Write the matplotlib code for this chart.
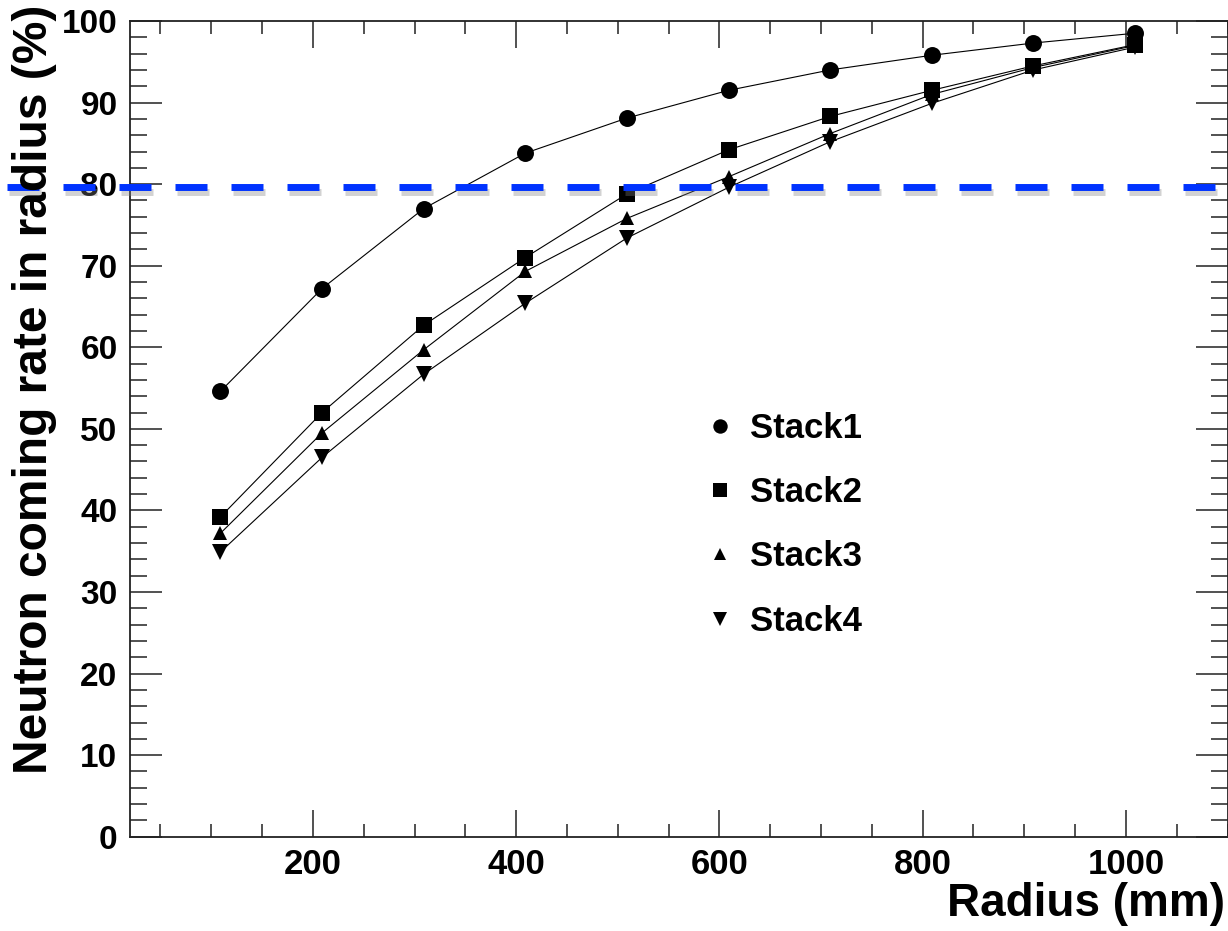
import matplotlib
matplotlib.use("Agg")
import matplotlib.pyplot as plt
import matplotlib.patheffects as pe
from matplotlib.lines import Line2D
from matplotlib.ticker import MultipleLocator

plt.rcParams['font.family'] = ['Liberation Sans', 'DejaVu Sans']
plt.rcParams['font.weight'] = 'bold'

radius = [109, 209, 309, 409, 509, 609, 709, 809, 909, 1009]
stack1 = [54.6, 67.2, 77.0, 83.8, 88.1, 91.5, 94.0, 95.8, 97.3, 98.5]
stack2 = [39.2, 52.0, 62.7, 71.0, 78.8, 84.2, 88.3, 91.5, 94.5, 97.1]
stack3 = [37.2, 49.5, 59.7, 69.3, 75.8, 80.9, 86.2, 91.0, 94.3, 97.0]
stack4 = [34.9, 46.5, 56.7, 65.4, 73.4, 79.6, 85.2, 89.9, 94.0, 96.8]
labels = ["Stack1", "Stack2", "Stack3", "Stack4"]
threshold = 79.6

W, H = 1228, 931
fig = plt.figure(figsize=(W / 100, H / 100), dpi=100)
ax = fig.add_axes([130 / W, 1 - 836.7 / H, 1097.5 / W, (836.7 - 21) / H])

series = [stack1, stack2, stack3, stack4]
markers = ['o', 's', '^', 'v']
msizes = [12.2, 11.5, 10.5, 12.0]
for ys, m, ms in zip(series, markers, msizes):
    ax.plot(radius, ys, color='black', lw=0.8, marker=m, markersize=ms,
            markeredgewidth=0)

ax.set_xlim(20, 1100)
ax.set_ylim(0, 100)
ax.xaxis.set_major_locator(MultipleLocator(200))
ax.xaxis.set_minor_locator(MultipleLocator(50))
ax.yaxis.set_major_locator(MultipleLocator(10))
ax.yaxis.set_minor_locator(MultipleLocator(2))
ax.tick_params(axis='both', which='both', direction='in', top=True, right=True,
               width=1.1, color='#222222')
ax.tick_params(axis='x', which='major', length=19.5, pad=8, labelsize=25)
ax.tick_params(axis='x', which='minor', length=9.5)
ax.tick_params(axis='y', which='major', length=23, pad=9, labelsize=24)
ax.tick_params(axis='y', which='minor', length=12)
for lab in ax.get_xticklabels() + ax.get_yticklabels():
    lab.set_fontweight('bold')
for s in ax.spines.values():
    s.set_linewidth(1.3)
    s.set_color('#222222')

# dashed blue threshold line with shadow
x0 = (7 - 130) / 1097.5
x1 = (1215 - 130) / 1097.5
ln, = ax.plot([x0, x1], [threshold, threshold], transform=ax.get_yaxis_transform(),
              color='#0033FF', lw=5.0, solid_capstyle='butt', dash_capstyle='butt',
              clip_on=False, zorder=5)
ln.set_dashes([32 * 0.72 / 5.0, 24 * 0.72 / 5.0])
ln.set_path_effects([pe.SimpleLineShadow(offset=(1.5, -3.5), shadow_color='gray', alpha=0.35),
                     pe.Normal()])

handles = [Line2D([], [], color='black', marker=m, linestyle='none', markersize=ms * 0.85,
                  markeredgewidth=0) for m, ms in zip(markers, msizes)]
leg = ax.legend(handles, labels, loc='upper left',
                bbox_to_anchor=((702.6 - 130) / 1097.5, (836.7 - 412) / 815.7),
                frameon=False, fontsize=25, handlelength=1.0, handletextpad=0.37,
                labelspacing=0.9, borderaxespad=0, borderpad=0)
for t in leg.get_texts():
    t.set_fontweight('bold')

fig.text(1225 / W, 5 / H, "Radius (mm)", ha='right', va='bottom', fontsize=33, fontweight='bold')
fig.text(35 / W, 1 - 5 / H, "Neutron coming rate in radius (%)", rotation=90,
         ha='center', va='top', fontsize=34.5, fontweight='bold')

fig.savefig("out.png", dpi=100)
